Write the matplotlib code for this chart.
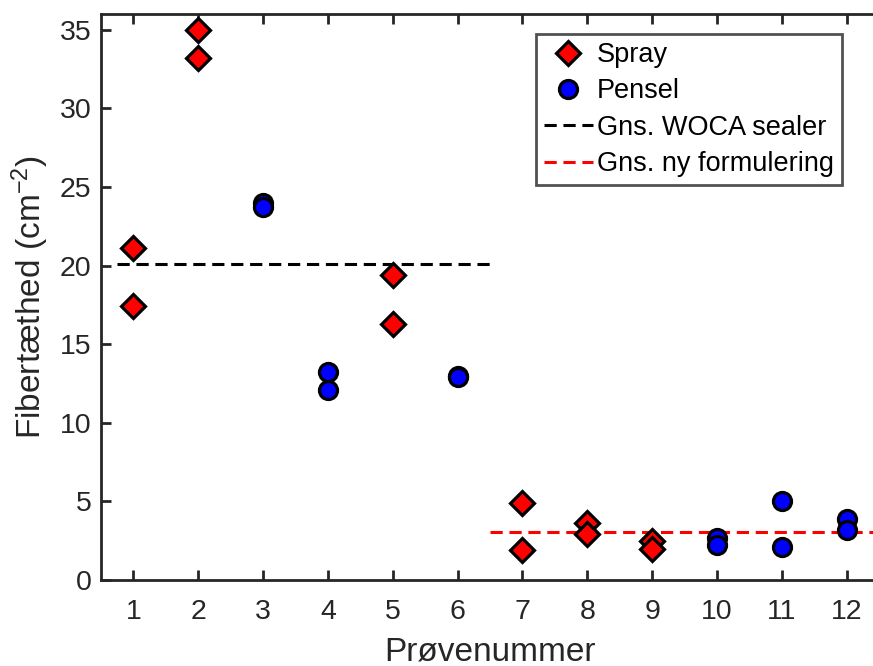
import matplotlib
matplotlib.use("Agg")
import matplotlib.pyplot as plt

plt.rcParams['font.family'] = ['Liberation Sans', 'DejaVu Sans']
plt.rcParams['mathtext.default'] = 'regular'

# Data
spray_x = [1, 1, 2, 2, 5, 5, 7, 7, 8, 8, 9, 9]
spray_y = [21.1, 17.4, 35.0, 33.2, 19.4, 16.3, 4.9, 1.9, 3.6, 2.9, 2.5, 2.0]
pensel_x = [3, 3, 4, 4, 6, 6, 10, 10, 11, 11, 12, 12]
pensel_y = [24.0, 23.7, 13.2, 12.1, 13.0, 12.9, 2.7, 2.2, 5.0, 2.1, 3.9, 3.2]
woca_x = [0.75, 6.5]
woca_mean = 20.1
ny_x = [6.5, 12.5]
ny_mean = 3.07
xticks = list(range(1, 13))
yticks = [0, 5, 10, 15, 20, 25, 30, 35]

fig = plt.figure(figsize=(8.73, 6.66), dpi=100)
ax = fig.add_axes([101/873, 1-580/666, 778/873, 566/666])

dash = (0, (4, 2.2))
ax.plot(spray_x, spray_y, linestyle='none', marker='D', markersize=12,
        markerfacecolor='#ff0000', markeredgecolor='black', markeredgewidth=2.3,
        label='Spray', zorder=3)
ax.plot(pensel_x, pensel_y, linestyle='none', marker='o', markersize=13,
        markerfacecolor='#0000ff', markeredgecolor='black', markeredgewidth=2.3,
        label='Pensel', zorder=3)
ax.plot(woca_x, [woca_mean]*2, linestyle=dash, color='black',
        linewidth=2.2, label='Gns. WOCA sealer', zorder=2)
ax.plot(ny_x, [ny_mean]*2, linestyle=dash, color='#ff0000',
        linewidth=2.2, label='Gns. ny formulering', zorder=2)

ax.set_xlim(0.5, 12.5)
ax.set_ylim(0, 36)
ax.set_xticks(xticks)
ax.set_yticks(yticks)
ax.tick_params(direction='in', length=7, width=2, colors='#262626',
               labelsize=20.5, top=True, right=False, pad=7)
ax.tick_params(axis='x', pad=14)
for s in ax.spines.values():
    s.set_linewidth(2)
    s.set_color('#262626')

ax.set_xlabel('Prøvenummer', fontsize=24, color='#262626', labelpad=8)
ax.set_ylabel(r'Fibertæthed (cm$^{-2}$)', fontsize=24, color='#262626', labelpad=6)

leg = ax.legend(loc='upper right', bbox_to_anchor=(842/873, 1-34/666),
                bbox_transform=fig.transFigure, borderaxespad=0,
                fontsize=19.5, frameon=True, fancybox=False, edgecolor='#262626',
                handlelength=1.8, handletextpad=0.15, borderpad=0.3,
                labelspacing=0.38)
leg.get_frame().set_linewidth(2)

fig.savefig('out.png', dpi=100)
